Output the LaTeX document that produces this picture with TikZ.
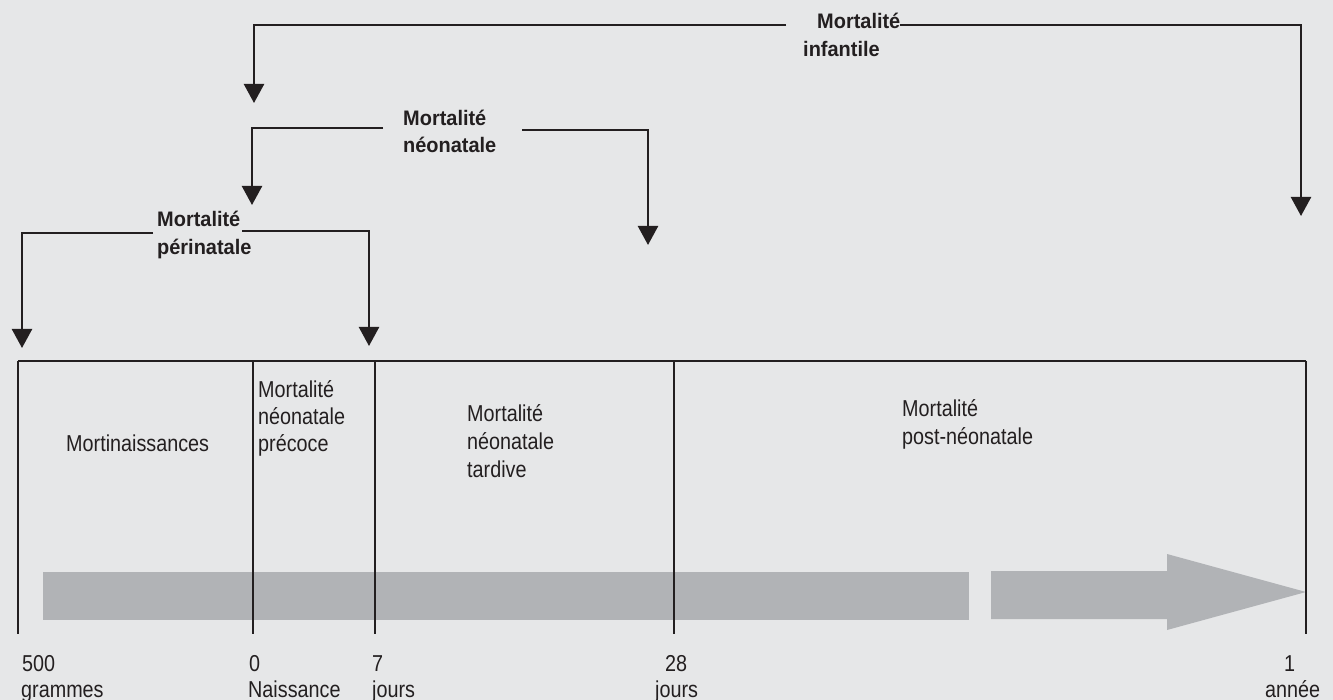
\documentclass[tikz,border=0pt]{standalone}
\usepackage{fontspec}
\setmainfont{Liberation Sans}[FakeStretch=0.86]
\newfontfamily\headfont{Liberation Sans}[FakeStretch=0.95]
\usetikzlibrary{arrows.meta}
\definecolor{bg}{HTML}{E6E7E8}
\definecolor{ink}{HTML}{231F20}
\definecolor{bar}{HTML}{B1B3B6}
\tikzset{
  lbl/.style={anchor=base west, inner sep=0pt, text=ink, font=\fontsize{23}{27}\selectfont},
  head/.style={anchor=base west, inner sep=0pt, text=ink, font=\headfont\bfseries\fontsize{21}{26}\selectfont},
  bracket/.style={draw=ink, line width=2.4pt, -{Triangle[width=20pt,length=19pt]}},
  tick/.style={draw=ink, line width=2.4pt},
  axis/.style={draw=ink, line width=2pt},
}
\begin{document}
\begin{tikzpicture}[x=1pt,y=-1pt]
\fill[bg] (0,0) rectangle (1333,700);
\useasboundingbox (0,0) rectangle (1333,700);

% progress bar
\fill[bar] (43,572) rectangle (969,620);
\fill[bar] (991,571) -- (1167,571) -- (1167,554) -- (1306,592) -- (1167,630) -- (1167,619) -- (991,619) -- cycle;

% timeline
\coordinate (t0) at (18,361);
\coordinate (t1) at (1306,361);
\draw[axis] (t0) -- (t1);
\foreach \x in {18,253,375,674,1306}{
  \draw[tick] (\x,361) -- (\x,634);
}

% section texts
\node[lbl] (mort) at (66,451) {Mortinaissances};
\node[lbl] (pa) at (258,397) {Mortalité};
\node[lbl] (pb) at (258,424) {néonatale};
\node[lbl] (pc) at (258,451) {précoce};
\node[lbl] (ta) at (467,421) {Mortalité};
\node[lbl] (tb) at (467,449) {néonatale};
\node[lbl] (tc) at (467,477) {tardive};
\node[lbl] (qa) at (902,417) {Mortalité};
\node[lbl] (qb) at (902,444) {post-néonatale};

% axis labels
\node[lbl] (l500) at (22,671) {500};
\node[lbl] (lgr) at (21,697) {grammes};
\node[lbl] (l0) at (249,671) {0};
\node[lbl] (lna) at (248,697) {Naissance};
\node[lbl] (l7) at (372,671) {7};
\node[lbl] (lj7) at (372,697) {jours};
\node[lbl] (l28) at (665,671) {28};
\node[lbl] (lj28) at (655,697) {jours};
\node[lbl] (l1) at (1284,671) {1};
\node[lbl] (lan) at (1265,697) {année};

% headings
\node[head] (ia) at (817,29) {Mortalité};
\node[head] (ib) at (803,57) {infantile};
\node[head] (na) at (403,126) {Mortalité};
\node[head] (nb) at (403,153) {néonatale};
\node[head] (pea) at (157,227) {Mortalité};
\node[head] (peb) at (157,255) {périnatale};

% infantile bracket
\coordinate (iL) at (786,25);
\coordinate (iLc) at (254,25);
\coordinate (iLt) at (254,103);
\coordinate (iR) at (900,25);
\coordinate (iRc) at (1301,25);
\coordinate (iRt) at (1301,216);
\draw[bracket] (iL) -- (iLc) -- (iLt);
\draw[bracket] (iR) -- (iRc) -- (iRt);

% neonatale bracket
\coordinate (nL) at (383,128);
\coordinate (nLc) at (252,128);
\coordinate (nLt) at (252,205);
\coordinate (nR) at (522,130);
\coordinate (nRc) at (648,130);
\coordinate (nRt) at (648,245);
\draw[bracket] (nL) -- (nLc) -- (nLt);
\draw[bracket] (nR) -- (nRc) -- (nRt);

% perinatale bracket
\coordinate (pL) at (153,233);
\coordinate (pLc) at (22,233);
\coordinate (pLt) at (22,348);
\coordinate (pR) at (242,231);
\coordinate (pRc) at (369,231);
\coordinate (pRt) at (369,346);
\draw[bracket] (pL) -- (pLc) -- (pLt);
\draw[bracket] (pR) -- (pRc) -- (pRt);
\end{tikzpicture}
\end{document}
